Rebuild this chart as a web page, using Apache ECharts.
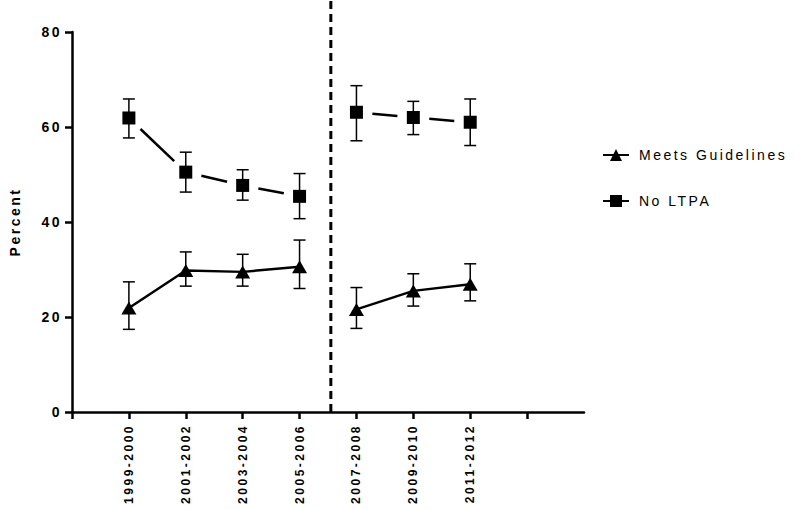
<!DOCTYPE html>
<html>
<head>
<meta charset="utf-8">
<script src="https://cdn.jsdelivr.net/npm/echarts@6.0.0/dist/echarts.min.js"></script>
<style>
  html,body{margin:0;padding:0;background:#fff}
  #chart{width:800px;height:510px}
  #chart text{letter-spacing:2.5px}
</style>
</head>
<body>
<div id="chart"></div>
<script>
// survey periods, placed at x = 1..7 on the axis
const periods = ['1999-2000','2001-2002','2003-2004','2005-2006','2007-2008','2009-2010','2011-2012']
const xPos = [1,2,3,4,5,6,7]
const splitAt = 4        // index where the second period block starts
const breakX = 4.55      // dashed divider
const yTicks = [0,20,40,60,80]

const meets   = [21.9, 29.8, 29.5, 30.6, 21.6, 25.5, 26.9]
const meetsLo = [17.4, 26.5, 26.5, 26.0, 17.6, 22.3, 23.4]
const meetsHi = [27.4, 33.7, 33.2, 36.2, 26.2, 29.1, 31.2]

const noLtpa   = [61.9, 50.5, 47.7, 45.4, 63.1, 62.0, 61.0]
const noLtpaLo = [57.7, 46.3, 44.6, 40.7, 57.1, 58.4, 56.1]
const noLtpaHi = [65.9, 54.7, 51.0, 50.2, 68.7, 65.4, 65.9]

function lineData(vals){
  const out = []
  vals.forEach((v,i)=>{
    if(i===splitAt) out.push([breakX,'-'])
    out.push([xPos[i], v])
  })
  return out
}
function barData(lo, hi){
  return xPos.map((x,i)=>[x, lo[i], hi[i]])
}
function segData(vals){
  const out = []
  for(let i=1;i<vals.length;i++){
    if(i===splitAt) continue
    out.push([xPos[i-1], vals[i-1], xPos[i], vals[i]])
  }
  return out
}

function renderBars(params, api){
  const x = api.value(0)
  const a = api.coord([x, api.value(1)])
  const b = api.coord([x, api.value(2)])
  const w = 6
  const st = {stroke:'#000', lineWidth:1.5}
  return {type:'group', children:[
    {type:'line', shape:{x1:a[0],y1:a[1],x2:b[0],y2:b[1]}, style:st},
    {type:'line', shape:{x1:a[0]-w,y1:a[1],x2:a[0]+w,y2:a[1]}, style:st},
    {type:'line', shape:{x1:b[0]-w,y1:b[1],x2:b[0]+w,y2:b[1]}, style:st}
  ]}
}

// No LTPA line stops short of each marker
function renderSeg(params, api){
  const p = api.coord([api.value(0), api.value(1)])
  const q = api.coord([api.value(2), api.value(3)])
  const dx = q[0]-p[0], dy = q[1]-p[1]
  const len = Math.sqrt(dx*dx+dy*dy)
  const g = 16
  const ux = dx/len, uy = dy/len
  return {type:'line', shape:{x1:p[0]+ux*g, y1:p[1]+uy*g, x2:q[0]-ux*g, y2:q[1]-uy*g},
    style:{stroke:'#000', lineWidth:2.5}}
}

function renderDivider(params, api){
  const p = api.coord([api.value(0), 0])
  return {type:'line', shape:{x1:p[0], y1:p[1], x2:p[0], y2:0},
    style:{stroke:'#000', lineWidth:3, lineDash:[8,5]}}
}

const txt = {color:'#000', fontFamily:'Arial, "Liberation Sans", sans-serif'}

const chart = echarts.init(document.getElementById('chart'), null, {renderer:'svg'})
chart.setOption({
  animation:false,
  grid:{left:71, right:216, top:32, bottom:98},
  legend:{
    orient:'vertical', left:597, top:143, itemWidth:26, itemHeight:15, itemGap:32,
    textStyle:Object.assign({fontSize:14, padding:[0,0,0,5]}, txt),
    data:[
      {name:'Meets Guidelines'},
      {name:'No LTPA', lineStyle:{opacity:1}}
    ]
  },
  xAxis:{
    type:'value', min:0, max:9, interval:1,
    axisLine:{onZero:false, lineStyle:{color:'#000', width:2.5}},
    axisTick:{show:true, length:7, lineStyle:{color:'#000', width:2.5}, customValues:[0,1,2,3,4,5,6,7,8]},
    splitLine:{show:false},
    axisLabel:Object.assign({
      rotate:90, fontSize:12, fontWeight:'bold', margin:12,
      customValues:xPos,
      formatter:(v)=>periods[xPos.indexOf(v)] || ''
    }, txt)
  },
  yAxis:{
    type:'value', min:0, max:80, interval:20,
    name:'Percent', nameLocation:'middle', nameGap:50,
    nameTextStyle:Object.assign({fontSize:14, fontWeight:'bold'}, txt),
    axisLine:{show:true, lineStyle:{color:'#000', width:2.5}},
    axisTick:{show:true, length:7, lineStyle:{color:'#000', width:2.5}},
    splitLine:{show:false},
    axisLabel:Object.assign({fontSize:14, fontWeight:'bold', margin:10,
      customValues:yTicks}, txt)
  },
  series:[
    {
      name:'divider', type:'custom', renderItem:renderDivider, silent:true,
      data:[[breakX]], encode:{x:0}, z:1
    },
    {
      name:'Meets Guidelines', type:'line', data:lineData(meets),
      symbol:'triangle', symbolSize:[15,13], connectNulls:false,
      itemStyle:{color:'#000'}, lineStyle:{color:'#000', width:2.5}, z:3
    },
    {
      name:'No LTPA', type:'line', data:lineData(noLtpa),
      symbol:'rect', symbolSize:13, connectNulls:false,
      itemStyle:{color:'#000'}, lineStyle:{color:'#000', width:2.5, opacity:0}, z:3
    },
    {
      name:'No LTPA seg', type:'custom', renderItem:renderSeg, silent:true,
      data:segData(noLtpa), encode:{x:[0,2], y:[1,3]}, z:2
    },
    {
      name:'Meets bars', type:'custom', renderItem:renderBars, silent:true,
      data:barData(meetsLo, meetsHi), encode:{x:0, y:[1,2]}, z:4
    },
    {
      name:'No LTPA bars', type:'custom', renderItem:renderBars, silent:true,
      data:barData(noLtpaLo, noLtpaHi), encode:{x:0, y:[1,2]}, z:4
    }
  ]
})
</script>
</body>
</html>
